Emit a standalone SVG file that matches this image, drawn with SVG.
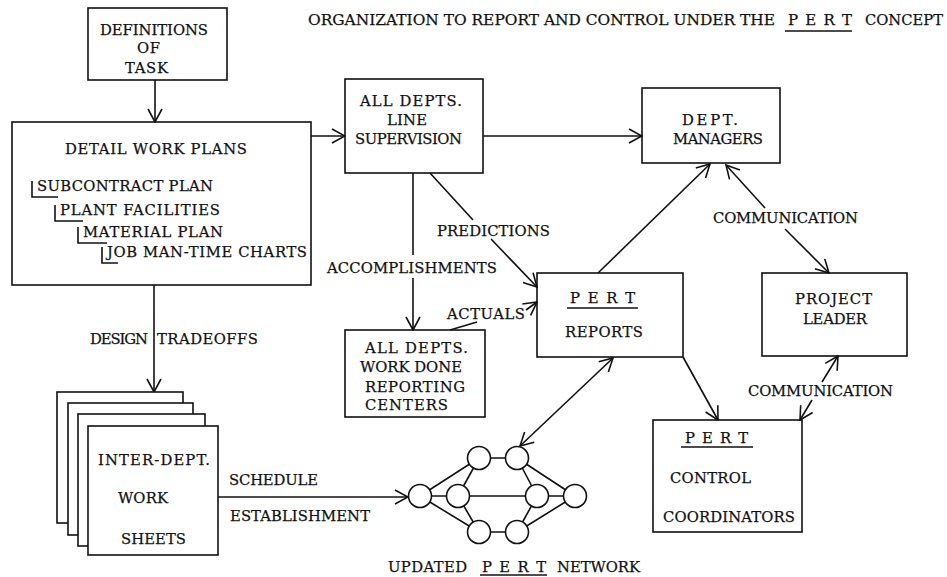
<svg xmlns="http://www.w3.org/2000/svg" width="947" height="577" viewBox="0 0 947 577">
<style>
.b{fill:none;stroke:#111;stroke-width:1.6}
.w{fill:#fff;stroke:#111;stroke-width:1.6}
.c{fill:none;stroke:#111;stroke-width:1.6}
text{font-family:"DejaVu Serif","Liberation Serif",serif;font-size:14.8px;fill:#111;stroke:#111;stroke-width:0.25}
.ttl{font-size:15px}
</style>
<defs>
<marker id="ah" viewBox="0 0 15 16" refX="14" refY="8" markerWidth="15" markerHeight="16" markerUnits="userSpaceOnUse" orient="auto-start-reverse">
<path d="M1,1 L14,8 L1,15" fill="none" stroke="#111" stroke-width="1.6"/>
</marker>
</defs>
<rect width="947" height="577" fill="#fff"/>

<g id="title">
<text class="ttl" x="308" y="25" textLength="467" lengthAdjust="spacingAndGlyphs">ORGANIZATION TO REPORT AND CONTROL UNDER THE</text>
<text class="ttl" x="788" y="25" textLength="64">P E R T</text>
<line class="c" x1="785" y1="31" x2="852" y2="31"/>
<text class="ttl" x="865" y="25" textLength="78" lengthAdjust="spacingAndGlyphs">CONCEPT</text>
</g>

<g id="connectors">
<line class="c" x1="155" y1="80" x2="155" y2="122" marker-end="url(#ah)"/>
<line class="c" x1="311" y1="136" x2="345" y2="136" marker-end="url(#ah)"/>
<line class="c" x1="483" y1="136" x2="642" y2="136" marker-end="url(#ah)"/>
<line class="c" x1="413" y1="173" x2="413" y2="255"/>
<line class="c" x1="413" y1="278" x2="413" y2="330" marker-end="url(#ah)"/>
<line class="c" x1="430" y1="173" x2="473" y2="220"/>
<line class="c" x1="491" y1="239" x2="537" y2="287" marker-end="url(#ah)"/>
<line class="c" x1="450" y1="330" x2="477" y2="322"/>
<line class="c" x1="526" y1="310" x2="537" y2="302" marker-end="url(#ah)"/>
<line class="c" x1="598" y1="273" x2="710" y2="164" marker-end="url(#ah)"/>
<line class="c" x1="765" y1="208" x2="726" y2="165" marker-end="url(#ah)"/>
<line class="c" x1="785" y1="229" x2="829" y2="273" marker-end="url(#ah)"/>
<line class="c" x1="822" y1="382" x2="838" y2="356" marker-end="url(#ah)"/>
<line class="c" x1="812" y1="400" x2="800" y2="420" marker-end="url(#ah)"/>
<line class="c" x1="683" y1="357" x2="718" y2="420" marker-end="url(#ah)"/>
<line class="c" x1="613" y1="358" x2="520" y2="446" marker-start="url(#ah)" marker-end="url(#ah)"/>
<line class="c" x1="154" y1="285" x2="154" y2="392" marker-end="url(#ah)"/>
<line class="c" x1="218" y1="497" x2="408" y2="497" marker-end="url(#ah)"/>
<text x="327" y="273" textLength="170">ACCOMPLISHMENTS</text>
<text x="437" y="236" textLength="113">PREDICTIONS</text>
<text x="447" y="319" textLength="78">ACTUALS</text>
<text x="713" y="223" textLength="145">COMMUNICATION</text>
<text x="748" y="396" textLength="145">COMMUNICATION</text>
<text x="90" y="344" textLength="58">DESIGN</text>
<text x="157" y="344" textLength="101">TRADEOFFS</text>
<text x="229" y="485" textLength="89">SCHEDULE</text>
<text x="230" y="521" textLength="140">ESTABLISHMENT</text>
</g>

<g id="definitions">
<rect class="b" x="88" y="8" width="139" height="72"/>
<text x="100" y="35" textLength="108">DEFINITIONS</text>
<text x="137" y="53" textLength="23">OF</text>
<text x="125" y="73" textLength="43">TASK</text>
</g>

<g id="detail-work-plans">
<rect class="b" x="12" y="122" width="299" height="163"/>
<text x="65" y="154" textLength="182">DETAIL WORK PLANS</text>
<text x="37" y="191" textLength="176">SUBCONTRACT PLAN</text>
<path class="c" d="M32,181 V197 H58"/>
<text x="60" y="215" textLength="160">PLANT FACILITIES</text>
<path class="c" d="M55,205 V221 H83"/>
<text x="83" y="237" textLength="140">MATERIAL PLAN</text>
<path class="c" d="M78,227 V243 H107"/>
<text x="107" y="257" textLength="200">JOB MAN-TIME CHARTS</text>
<path class="c" d="M102,247 V263 H118"/>
</g>

<g id="line-supervision">
<rect class="b" x="345" y="79" width="138" height="94"/>
<text x="360" y="106" textLength="102">ALL DEPTS.</text>
<text x="387" y="125" textLength="40">LINE</text>
<text x="355" y="144" textLength="107">SUPERVISION</text>
</g>

<g id="dept-managers">
<rect class="b" x="642" y="88" width="138" height="75"/>
<text x="682" y="125" textLength="56">DEPT.</text>
<text x="673" y="144" textLength="90">MANAGERS</text>
</g>

<g id="work-done">
<rect class="b" x="345" y="330" width="140" height="87"/>
<text x="365" y="353" textLength="103">ALL DEPTS.</text>
<text x="360" y="372" textLength="102">WORK DONE</text>
<text x="365" y="392" textLength="100">REPORTING</text>
<text x="365" y="410" textLength="83">CENTERS</text>
</g>

<g id="pert-reports">
<rect class="b" x="537" y="273" width="146" height="84"/>
<text x="570" y="303" textLength="65">P E R T</text>
<line class="c" x1="567" y1="308" x2="638" y2="308"/>
<text x="565" y="337" textLength="78">REPORTS</text>
</g>

<g id="project-leader">
<rect class="b" x="762" y="273" width="145" height="83"/>
<text x="795" y="304" textLength="77">PROJECT</text>
<text x="803" y="324" textLength="64">LEADER</text>
</g>

<g id="pert-control">
<rect class="b" x="653" y="420" width="149" height="112"/>
<text x="685" y="443" textLength="63">P E R T</text>
<line class="c" x1="681" y1="447" x2="753" y2="447"/>
<text x="670" y="483" textLength="81">CONTROL</text>
<text x="663" y="522" textLength="132">COORDINATORS</text>
</g>

<g id="work-sheets">
<rect class="w" x="57" y="392" width="126" height="131"/>
<rect class="w" x="68" y="403" width="125" height="132"/>
<rect class="w" x="78" y="414" width="127" height="132"/>
<rect class="w" x="88" y="426" width="130" height="129"/>
<text x="98" y="465" textLength="112">INTER-DEPT.</text>
<text x="118" y="503" textLength="50">WORK</text>
<text x="121" y="544" textLength="65">SHEETS</text>
</g>

<g id="pert-network">
<g class="c">
<line x1="420" y1="496" x2="458" y2="496"/>
<line x1="420" y1="496" x2="479" y2="458"/>
<line x1="420" y1="496" x2="479" y2="532"/>
<line x1="458" y1="496" x2="479" y2="458"/>
<line x1="458" y1="496" x2="479" y2="532"/>
<line x1="458" y1="496" x2="537" y2="496"/>
<line x1="479" y1="458" x2="517" y2="458"/>
<line x1="517" y1="458" x2="537" y2="496"/>
<line x1="517" y1="458" x2="575" y2="496"/>
<line x1="537" y1="496" x2="575" y2="496"/>
<line x1="479" y1="532" x2="517" y2="532"/>
<line x1="517" y1="532" x2="537" y2="496"/>
<line x1="517" y1="532" x2="575" y2="496"/>
</g>
<circle class="w" cx="420" cy="496" r="11.5"/>
<circle class="w" cx="458" cy="496" r="11.5"/>
<circle class="w" cx="479" cy="458" r="11.5"/>
<circle class="w" cx="517" cy="458" r="11.5"/>
<circle class="w" cx="537" cy="496" r="11.5"/>
<circle class="w" cx="575" cy="496" r="11.5"/>
<circle class="w" cx="479" cy="532" r="11.5"/>
<circle class="w" cx="517" cy="532" r="11.5"/>
<text x="388" y="572" textLength="79">UPDATED</text>
<text x="482" y="572" textLength="64">P E R T</text>
<line class="c" x1="480" y1="575" x2="547" y2="575"/>
<text x="557" y="572" textLength="83">NETWORK</text>
</g>
</svg>
